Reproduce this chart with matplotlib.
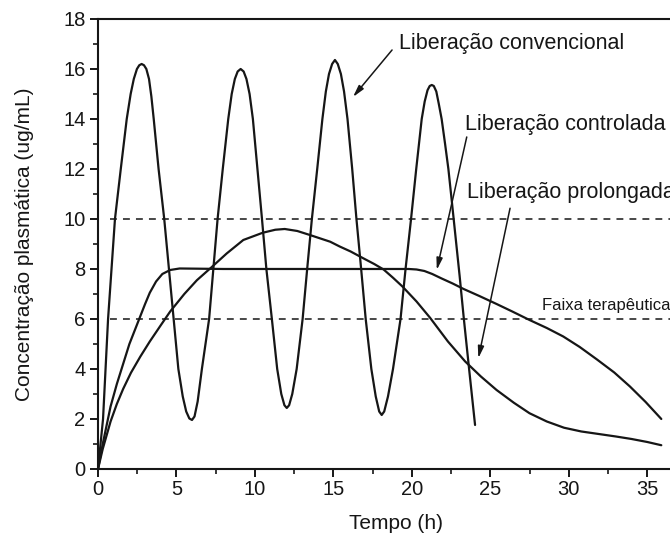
"""Plasma concentration vs time: conventional, controlled and prolonged release."""

import matplotlib

matplotlib.use("Agg")
import matplotlib.pyplot as plt  # noqa: E402

INK = "#161616"

# conventional release (repeated doses)
conv_t = [0, 0.16, 0.32, 0.48, 0.64, 0.86, 1.08, 1.45, 1.83, 2.08, 2.28, 2.48,
          2.63, 2.78, 2.93, 3.08, 3.25, 3.40, 3.55, 3.86, 4.22, 4.52, 4.82,
          5.12, 5.40, 5.62, 5.82, 5.99, 6.15, 6.35, 6.62, 6.85, 7.08, 7.35,
          7.62, 7.95, 8.30, 8.52, 8.72, 8.90, 9.09, 9.28, 9.46, 9.66, 9.87,
          10.16, 10.45, 10.73, 11.08, 11.42, 11.68, 11.88, 12.03, 12.18, 12.38,
          12.66, 13.04, 13.33, 13.63, 13.97, 14.30, 14.52, 14.72, 14.92, 15.10,
          15.28, 15.48, 15.68, 15.90, 16.20, 16.47, 16.77, 17.06, 17.42, 17.70,
          17.92, 18.08, 18.24, 18.48, 18.80, 19.28, 19.60, 19.95, 20.28, 20.63,
          20.82, 21.00, 21.14, 21.27, 21.40, 21.56, 21.72, 21.90, 22.12, 22.33,
          22.55, 22.80, 23.05, 23.30, 23.65, 24.03]
conv_c = [0, 1.0, 2.0, 4.0, 6.0, 8.0, 10.0, 12.0, 14.0, 15.0, 15.6, 16.0,
          16.15, 16.2, 16.15, 16.0, 15.6, 14.9, 14.0, 12.0, 10.0, 8.0, 6.0,
          4.0, 2.9, 2.3, 2.02, 1.96, 2.1, 2.7, 4.0, 5.0, 6.0, 8.0,
          10.0, 12.0, 14.0, 15.0, 15.6, 15.9, 16.0, 15.9, 15.6, 15.0, 14.0,
          12.0, 10.0, 8.0, 6.0, 4.0, 3.0, 2.55, 2.44, 2.55, 3.0,
          4.0, 6.0, 8.0, 10.0, 12.0, 14.0, 15.1, 15.8, 16.2, 16.36,
          16.2, 15.8, 15.1, 14.0, 12.0, 10.0, 8.0, 6.0, 4.0, 2.9,
          2.3, 2.16, 2.3, 2.9, 4.0, 6.0, 8.0, 10.0, 12.0, 14.0,
          14.7, 15.15, 15.32, 15.36, 15.32, 15.1, 14.6, 14.0, 13.0, 12.0,
          10.7, 9.2, 7.7, 6.1, 4.0, 1.76]

# controlled release (plateau ~8)
ctrl_t = [0, 0.3, 0.8, 1.2, 1.6, 2.0, 2.5, 3.0, 3.3, 3.7, 4.1, 4.6, 5.2, 8,
          12, 16, 19.8, 20.3, 20.8, 21.3, 21.9, 22.6, 23.3, 24.3, 25.4, 26.4,
          27.5, 28.6, 29.65, 30.7, 31.8, 32.9, 33.9, 34.9, 35.9]
ctrl_c = [0, 1.0, 2.5, 3.4, 4.2, 5.0, 5.8, 6.6, 7.05, 7.5, 7.8, 7.96, 8.02, 8.0,
          8.0, 8.0, 8.0, 7.98, 7.92, 7.8, 7.62, 7.42, 7.2, 6.92, 6.6, 6.3,
          5.96, 5.64, 5.3, 4.88, 4.38, 3.86, 3.3, 2.68, 2.0]

# prolonged release (peak ~9.6)
prol_t = [0, 0.3, 0.8, 1.2, 1.6, 2.1, 2.7, 3.3, 4.0, 4.6, 5.5, 6.3, 7.2, 8.2,
          9.26, 10.5, 11.3, 11.9, 12.7, 13.5, 14.8, 15.4, 16.1, 16.9, 17.6,
          18.2, 18.8, 19.4, 20.3, 21.16, 22.3, 23.4, 24.4, 25.4, 26.5, 27.5,
          28.6, 29.7, 30.8, 31.9, 33.0, 34.0, 35.0, 35.9]
prol_c = [0, 0.8, 1.9, 2.6, 3.2, 3.85, 4.5, 5.1, 5.75, 6.3, 7.0, 7.55, 8.05,
          8.62, 9.16, 9.45, 9.57, 9.6, 9.52, 9.36, 9.09, 8.9, 8.7, 8.43, 8.2,
          7.98, 7.65, 7.3, 6.7, 6.05, 5.1, 4.3, 3.7, 3.16, 2.65, 2.23, 1.9,
          1.65, 1.5, 1.4, 1.3, 1.2, 1.08, 0.95]

band = [6, 10]  # therapeutic window

plt.rcParams["font.family"] = ["Liberation Sans", "DejaVu Sans"]

fig = plt.figure(figsize=(6.7, 5.38), dpi=100)
ax = fig.add_axes([0.1463, 0.1283, 0.8899, 0.8364])
ax.set_xlim(0, 38)
ax.set_ylim(0, 18)

for lvl in band:
    ax.axhline(lvl, color=INK, lw=1.1, ls=(0, (4.5, 4)), xmin=0.02)

for t, c in [(conv_t, conv_c), (ctrl_t, ctrl_c), (prol_t, prol_c)]:
    ax.plot(t, c, color=INK, lw=1.6, solid_joinstyle="round",
            solid_capstyle="round")

ax.set_xticks(range(0, 40, 5))
ax.set_xticks([2.5 + 5 * k for k in range(8)], minor=True)
ax.set_yticks(range(0, 20, 2))
ax.set_yticks(range(1, 18, 2), minor=True)
ax.tick_params(which="major", direction="out", length=6, width=1.4,
               labelsize=14.5, colors=INK, pad=3)
ax.tick_params(which="minor", direction="out", length=3.5, width=1.2, colors=INK)
ax.tick_params(axis="x", pad=2)
for s in ax.spines.values():
    s.set_linewidth(1.5)
    s.set_color(INK)

ax.set_xlabel("Tempo (h)", fontsize=15, color=INK, labelpad=11)
ax.set_ylabel("Concentração plasmática (ug/mL)", fontsize=15, color=INK,
              labelpad=21)

arrow = dict(arrowstyle="-|>,head_length=0.7,head_width=0.18", color=INK, lw=1.1,
             shrinkA=0, shrinkB=0)
ax.text(19.2, 17.0, "Liberação convencional", fontsize=15.5, color=INK,
        va="center")
ax.annotate("", xy=(16.25, 14.88), xytext=(18.74, 16.76), arrowprops=arrow)

ax.text(23.4, 13.76, "Liberação controlada", fontsize=15.5, color=INK,
        va="center")
ax.annotate("", xy=(21.59, 7.96), xytext=(23.5, 13.28), arrowprops=arrow)

ax.text(23.5, 11.06, "Liberação prolongada", fontsize=15.5, color=INK,
        va="center")
ax.annotate("", xy=(24.24, 4.43), xytext=(26.26, 10.43), arrowprops=arrow)

ax.text(28.28, 6.55, "Faixa terapêutica", fontsize=12, color=INK, va="center")

fig.savefig("out.png", dpi=100, facecolor="white")
